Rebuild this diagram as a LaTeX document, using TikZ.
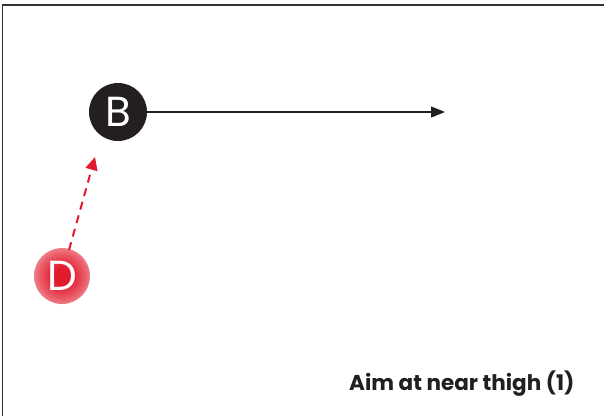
\documentclass[tikz,border=0pt]{standalone}
\usepackage{fontspec}
\setmainfont{Poppins}
\usetikzlibrary{arrows.meta}
\definecolor{bdark}{HTML}{231F20}
\definecolor{dred}{HTML}{E11B2C}
\pgfdeclareradialshading{dglow}{\pgfpoint{0bp}{0bp}}{color(0bp)=(dred); color(8bp)=(dred); color(20bp)=(dred!72!white); color(34bp)=(dred!30!white); color(50bp)=(white)}
\tikzset{
  frameline/.style={draw=black!80, line width=1.2pt},
  bnode/.style={circle, fill=bdark, minimum size=58pt, inner sep=0pt, text=white, font=\fontsize{42}{42}\selectfont},
  dnode/.style={circle, minimum size=52pt, inner sep=0pt, text=white, font=\fontsize{42}{42}\selectfont},
  moveline/.style={draw=bdark, line width=1.2pt, -{Triangle[length=14pt,width=11pt]}},
  passline/.style={draw=dred, line width=2pt, dash pattern=on 8pt off 6pt, -{Triangle[length=13pt,width=12pt]}},
  caption/.style={font=\fontsize{21.5}{24}\selectfont\bfseries, text=bdark, anchor=base east}
}
\begin{document}
\begin{tikzpicture}[x=1pt,y=-1pt]
\useasboundingbox (0,0) rectangle (604,416);
\draw[frameline] (2.5,416) -- (2.5,5) -- (604,5);
\node[bnode] (B) at (118,112) {B};
\coordinate (Bend) at (445,112);
\draw[moveline] (B) -- (Bend);
\shade[shading=dglow] (62,276) circle (28);
\node[dnode] (D) at (62,276) {D};
\coordinate (Dstart) at (69,250);
\coordinate (Dtip) at (95,157);
\draw[passline] (Dstart) -- (Dtip);
\node[caption] (cap) at (578,390) {Aim at near thigh (1)};
\end{tikzpicture}
\end{document}
